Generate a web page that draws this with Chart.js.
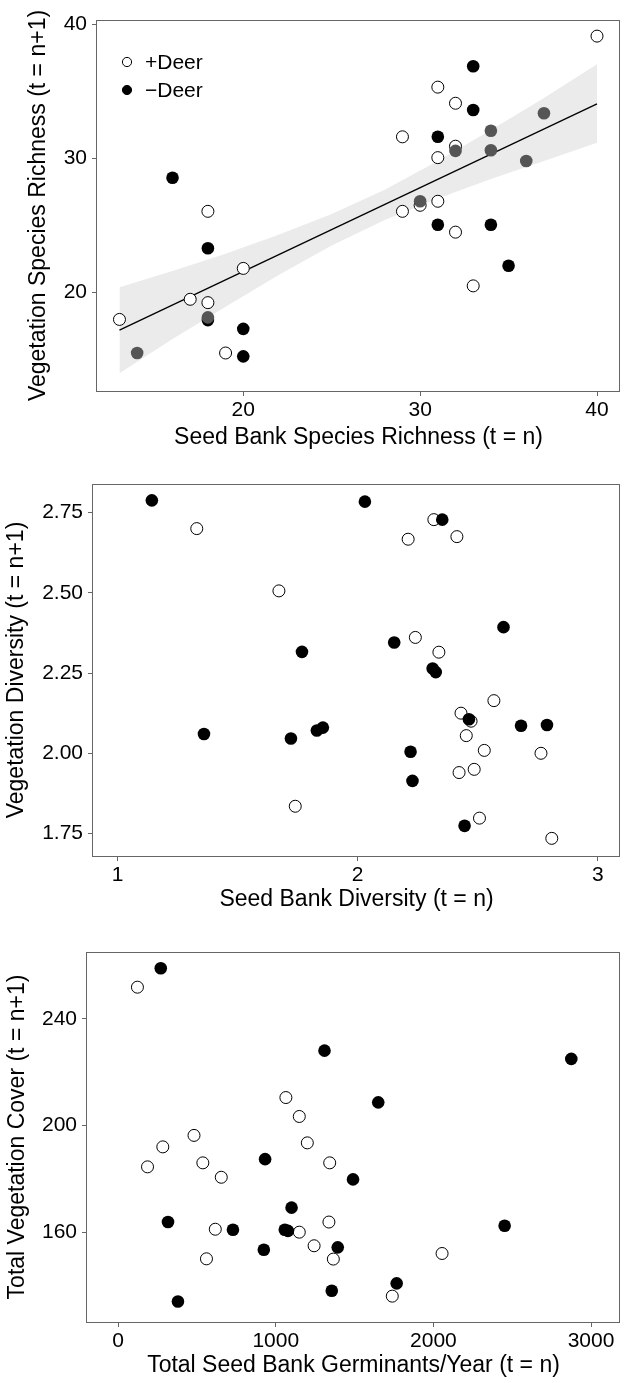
<!DOCTYPE html>
<html>
<head>
<meta charset="utf-8">
<title>Seed bank vs. vegetation</title>
<script src="https://cdn.jsdelivr.net/npm/chart.js@4.4.1/dist/chart.umd.min.js"></script>
<style>
  body { margin: 0; background: #fff; }
  canvas { display: block; }
</style>
</head>
<body>
<canvas id="richChart" width="627" height="460"></canvas>
<canvas id="divChart" width="627" height="460"></canvas>
<canvas id="coverChart" width="627" height="463"></canvas>
<script>
// ---- panel 1: species richness ----
const richOpenX = [40, 31, 32, 29, 32, 31, 30, 29, 31, 32, 33, 18, 20, 17, 18, 13, 19];
const richOpenY = [39.1, 35.3, 34.1, 31.6, 30.9, 30.05, 26.5, 26.05, 26.8, 24.5, 20.5, 26.05, 21.8, 19.5, 19.25, 18.0, 15.5];
const richFillX = [33, 33, 31, 31, 34, 35, 16, 18, 18, 20, 20];
const richFillY = [36.85, 33.6, 31.6, 25.05, 25.05, 22.0, 28.55, 23.3, 17.95, 17.3, 15.25];
const richGreyX = [37, 34, 34, 32, 36, 30, 14, 18];
const richGreyY = [33.35, 32.05, 30.6, 30.55, 29.8, 26.8, 15.5, 18.15];
const fitX = [13, 40];
const fitY = [17.2, 34.05];
const bandX = [13, 16, 19, 22, 25, 28, 31, 34, 37, 40];
const bandUpper = [20.4, 21.6, 22.9, 24.3, 25.85, 27.65, 29.8, 32.1, 34.5, 37.0];
const bandLower = [14.0, 16.55, 18.95, 21.3, 23.5, 25.4, 27.0, 28.45, 29.8, 31.15];
const richXTicks = [20, 30, 40];
const richYTicks = [20, 30, 40];

// ---- panel 2: diversity ----
const divOpenX = [1.33, 2.317, 2.21, 2.413, 1.672, 2.24, 2.338, 2.567, 2.43, 2.472, 2.452, 2.527, 2.763, 2.422, 2.485, 1.74, 2.507, 2.808];
const divOpenY = [2.70, 2.728, 2.667, 2.675, 2.506, 2.361, 2.315, 2.164, 2.125, 2.10, 2.055, 2.009, 2.00, 1.94, 1.95, 1.835, 1.798, 1.735];
const divFillX = [1.143, 2.03, 2.352, 2.607, 2.152, 1.768, 2.312, 2.325, 1.36, 1.722, 1.83, 1.855, 2.463, 2.68, 2.788, 2.22, 2.228, 2.445];
const divFillY = [2.788, 2.784, 2.728, 2.393, 2.345, 2.316, 2.264, 2.253, 2.06, 2.046, 2.071, 2.08, 2.106, 2.086, 2.088, 2.005, 1.914, 1.774];
const divXTicks = [1, 2, 3];
const divYTicks = [1.75, 2.00, 2.25, 2.50, 2.75];

// ---- panel 3: total cover ----
const covOpenX = [122, 1064, 1149, 481, 1200, 283, 186, 537, 1342, 654, 1337, 616, 1149, 1243, 560, 1365, 2055, 1739];
const covOpenY = [251.9, 210.5, 203.4, 196.3, 193.5, 192.0, 184.5, 186.0, 186.0, 180.6, 163.8, 161.1, 160.0, 154.9, 150.0, 149.9, 152.0, 136.0];
const covFillX = [270, 1309, 2875, 1650, 932, 1490, 1100, 316, 728, 1057, 1077, 2452, 924, 1393, 1767, 1355, 379];
const covFillY = [259.0, 228.1, 225.0, 208.7, 187.4, 179.8, 169.2, 163.8, 160.9, 160.9, 160.5, 162.4, 153.4, 154.3, 140.8, 138.0, 134.0];
const covXTicks = [0, 1000, 2000, 3000];
const covYTicks = [160, 200, 240];

const FONT = '"Liberation Sans", Arial, Helvetica, sans-serif';

function toPoints(xs, ys) {
    return xs.map((x, i) => ({ x: x, y: ys[i] }));
}

function openSet(xs, ys) {
    return { data: toPoints(xs, ys), backgroundColor: '#fff', borderColor: '#000', borderWidth: 1, pointRadius: 6, order: 2 };
}

function fillSet(xs, ys, colour, order) {
    return { data: toPoints(xs, ys), backgroundColor: colour, borderColor: colour, borderWidth: 0, pointRadius: 6.3, order: order };
}

// plot frame around the chart area
const framePlugin = {
    id: 'frame',
    afterDatasetsDraw(chart) {
        const a = chart.chartArea;
        const ctx = chart.ctx;
        ctx.save();
        ctx.strokeStyle = '#666';
        ctx.lineWidth = 1;
        ctx.strokeRect(a.left - 0.5, a.top + 0.5, a.right - a.left, a.bottom - a.top);
        ctx.restore();
    }
};

// small legend drawn inside the first panel
const deerLegend = {
    id: 'deerLegend',
    afterDraw(chart) {
        const ctx = chart.ctx;
        const items = [
            { label: '+Deer', fill: '#fff', y: 62 },
            { label: '\u2212Deer', fill: '#000', y: 90 }
        ];
        ctx.save();
        ctx.font = '21px ' + FONT;
        ctx.textBaseline = 'middle';
        ctx.fillStyle = '#000';
        items.forEach(item => {
            ctx.beginPath();
            ctx.arc(127, item.y, 4.6, 0, Math.PI * 2);
            ctx.fillStyle = item.fill;
            ctx.fill();
            ctx.strokeStyle = '#000';
            ctx.lineWidth = 1;
            ctx.stroke();
            ctx.fillStyle = '#000';
            ctx.fillText(item.label, 145, item.y + 1);
        });
        ctx.restore();
    }
};

function buildChart(id, o) {
    const ctx = document.getElementById(id).getContext('2d');
    const tickGrid = { drawOnChartArea: false, drawTicks: true, tickLength: 5, color: '#666' };
    return new Chart(ctx, {
        type: 'scatter',
        data: { datasets: o.datasets },
        options: {
            responsive: false,
            animation: false,
            events: [],
            layout: { padding: { top: o.top, right: 7, left: 0, bottom: 0 } },
            plugins: { legend: { display: false }, tooltip: { enabled: false } },
            scales: {
                x: {
                    type: 'linear',
                    min: o.xMin,
                    max: o.xMax,
                    afterBuildTicks: s => { s.ticks = o.xTicks.map(v => ({ value: v })); },
                    afterFit: s => { s.height = o.xAxisHeight; },
                    grid: tickGrid,
                    border: { display: false },
                    ticks: { font: { family: FONT, size: 21 }, color: '#000', padding: 2, autoSkip: false, maxRotation: 0, callback: v => String(v) },
                    title: { display: true, text: o.xTitle, color: '#000', font: { family: FONT, size: 23 }, padding: { top: 0, bottom: o.xTitlePad } }
                },
                y: {
                    type: 'linear',
                    min: o.yMin,
                    max: o.yMax,
                    afterBuildTicks: s => { s.ticks = o.yTicks.map(v => ({ value: v })); },
                    afterFit: s => { s.width = o.yAxisWidth; },
                    grid: tickGrid,
                    border: { display: false },
                    ticks: { font: { family: FONT, size: 21 }, color: '#000', padding: 5, autoSkip: false, callback: o.yFormat },
                    title: { display: true, text: o.yTitle, color: '#000', font: { family: FONT, size: 23 }, padding: { top: o.yTitlePad, bottom: 0 } }
                }
            }
        },
        plugins: o.plugins
    });
}

buildChart('richChart', {
    datasets: [
        openSet(richOpenX, richOpenY),
        fillSet(richFillX, richFillY, '#000', 1),
        fillSet(richGreyX, richGreyY, '#555', 0),
        { type: 'line', data: toPoints(fitX, fitY), borderColor: '#000', borderWidth: 1.3, pointRadius: 0, fill: false, order: 3 },
        { type: 'line', data: toPoints(bandX, bandUpper), borderWidth: 0, borderColor: 'rgba(0,0,0,0)', pointRadius: 0, fill: false, order: 4 },
        { type: 'line', data: toPoints(bandX, bandLower), borderWidth: 0, borderColor: 'rgba(0,0,0,0)', backgroundColor: '#ebebeb', pointRadius: 0, fill: '-1', order: 5 }
    ],
    top: 20,
    xMin: 11.73, xMax: 41.3, yMin: 12.67, yMax: 40.3,
    xTicks: richXTicks, yTicks: richYTicks,
    xAxisHeight: 69, yAxisWidth: 97,
    xTitle: 'Seed Bank Species Richness (t = n)', xTitlePad: 9,
    yTitle: 'Vegetation Species Richness (t = n+1)', yTitlePad: 25,
    yFormat: v => String(v),
    plugins: [framePlugin, deerLegend]
});

buildChart('divChart', {
    datasets: [
        openSet(divOpenX, divOpenY),
        fillSet(divFillX, divFillY, '#000', 1)
    ],
    top: 24,
    xMin: 0.898, xMax: 3.092, yMin: 1.680, yMax: 2.839,
    xTicks: divXTicks, yTicks: divYTicks,
    xAxisHeight: 64, yAxisWidth: 93,
    xTitle: 'Seed Bank Diversity (t = n)', xTitlePad: 7,
    yTitle: 'Vegetation Diversity (t = n+1)', yTitlePad: 3,
    yFormat: v => v.toFixed(2),
    plugins: [framePlugin]
});

buildChart('coverChart', {
    datasets: [
        openSet(covOpenX, covOpenY),
        fillSet(covFillX, covFillY, '#000', 1)
    ],
    top: 32,
    xMin: -198, xMax: 3184, yMin: 126.3, yMax: 265.1,
    xTicks: covXTicks, yTicks: covYTicks,
    xAxisHeight: 61, yAxisWidth: 87,
    xTitle: 'Total Seed Bank Germinants/Year (t = n)', xTitlePad: 4,
    yTitle: 'Total Vegetation Cover (t = n+1)', yTitlePad: 4,
    yFormat: v => String(v),
    plugins: [framePlugin]
});
</script>
</body>
</html>
